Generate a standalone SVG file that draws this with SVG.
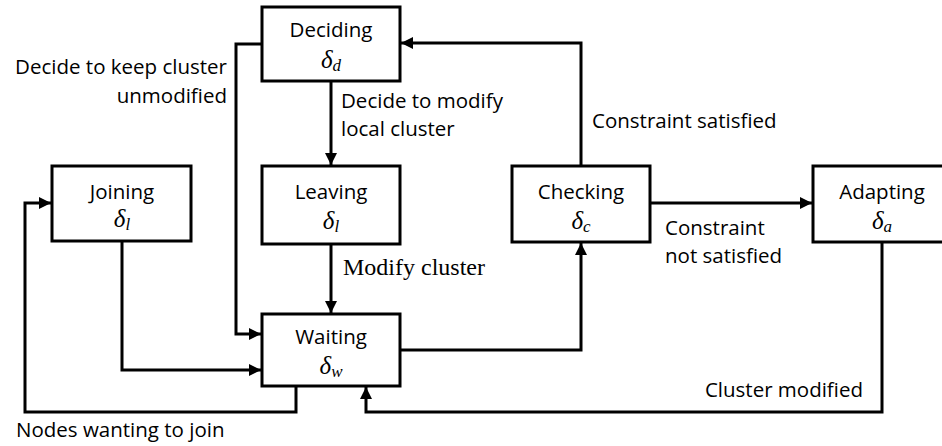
<svg xmlns="http://www.w3.org/2000/svg" width="942" height="446" viewBox="0 0 942 446">
  <style>
    .box { fill: #fff; stroke: #000; stroke-width: 3; }
    .wire { fill: none; stroke: #000; stroke-width: 3; }
    .lbl { font-family: "Open Sans", "Liberation Sans", Arial, sans-serif; font-size: 20.5px; fill: #000; }
    .mid { text-anchor: middle; }
    .end { text-anchor: end; }
    .math { font-family: "Liberation Serif", "Times New Roman", serif; font-style: italic; font-size: 25px; fill: #000; text-anchor: middle; }
    .sub { font-size: 17px; }
    .serif { font-family: "Liberation Serif", "Times New Roman", serif; font-size: 24px; fill: #000; }
  </style>
  <defs>
    <marker id="arrow" viewBox="0 0 10 10" refX="10" refY="5" markerWidth="4" markerHeight="4" orient="auto" markerUnits="strokeWidth">
      <path d="M0,0 L10,5 L0,10 z" fill="#000"/>
    </marker>
  </defs>

  <rect width="942" height="446" fill="#fff"/>

  <g id="connectors">
    <!-- Deciding -> Waiting (keep cluster unmodified) -->
    <path class="wire" d="M262,44 H236 V334 H261" marker-end="url(#arrow)"/>
    <!-- Deciding -> Leaving -->
    <path class="wire" d="M331,81 V165" marker-end="url(#arrow)"/>
    <!-- Leaving -> Waiting -->
    <path class="wire" d="M331,244 V313" marker-end="url(#arrow)"/>
    <!-- Joining -> Waiting -->
    <path class="wire" d="M122,241 V370 H261" marker-end="url(#arrow)"/>
    <!-- Waiting -> Joining (nodes wanting to join) -->
    <path class="wire" d="M296,386 V412 H25 V203 H51" marker-end="url(#arrow)"/>
    <!-- Waiting -> Checking -->
    <path class="wire" d="M400,350 H581 V243" marker-end="url(#arrow)"/>
    <!-- Checking -> Deciding (constraint satisfied) -->
    <path class="wire" d="M581,166 V43 H401" marker-end="url(#arrow)"/>
    <!-- Checking -> Adapting (constraint not satisfied) -->
    <path class="wire" d="M650,203 H812" marker-end="url(#arrow)"/>
    <!-- Adapting -> Waiting (cluster modified) -->
    <path class="wire" d="M882,242 V412 H366 V387" marker-end="url(#arrow)"/>
  </g>

  <g id="deciding">
    <rect class="box" x="262" y="7" width="138" height="74"/>
    <text class="lbl mid" x="331" y="37">Deciding</text>
    <text class="math" x="331" y="68">δ<tspan class="sub" dy="3">d</tspan></text>
  </g>

  <g id="leaving">
    <rect class="box" x="262" y="166" width="138" height="78"/>
    <text class="lbl mid" x="331" y="199">Leaving</text>
    <text class="math" x="331" y="229">δ<tspan class="sub" dy="3">l</tspan></text>
  </g>

  <g id="joining">
    <rect class="box" x="52" y="166" width="139" height="75"/>
    <text class="lbl mid" x="122" y="199">Joining</text>
    <text class="math" x="122" y="227">δ<tspan class="sub" dy="3">l</tspan></text>
  </g>

  <g id="waiting">
    <rect class="box" x="262" y="314" width="138" height="72"/>
    <text class="lbl mid" x="331" y="344">Waiting</text>
    <text class="math" x="331" y="374">δ<tspan class="sub" dy="3">w</tspan></text>
  </g>

  <g id="checking">
    <rect class="box" x="512" y="166" width="138" height="76"/>
    <text class="lbl mid" x="581" y="199">Checking</text>
    <text class="math" x="581" y="229">δ<tspan class="sub" dy="3">c</tspan></text>
  </g>

  <g id="adapting">
    <rect class="box" x="813" y="166" width="140" height="76"/>
    <text class="lbl mid" x="882" y="199">Adapting</text>
    <text class="math" x="882" y="229">δ<tspan class="sub" dy="3">a</tspan></text>
  </g>

  <g id="labels">
    <text class="lbl end" x="227" y="74">Decide to keep cluster</text>
    <text class="lbl end" x="227" y="103">unmodified</text>
    <text class="lbl" x="341" y="108">Decide to modify</text>
    <text class="lbl" x="341" y="136">local cluster</text>
    <text class="serif" x="343" y="275">Modify cluster</text>
    <text class="lbl" x="592" y="128">Constraint satisfied</text>
    <text class="lbl" x="665" y="235">Constraint</text>
    <text class="lbl" x="665" y="263">not satisfied</text>
    <text class="lbl end" x="863" y="397">Cluster modified</text>
    <text class="lbl" x="16" y="437">Nodes wanting to join</text>
  </g>
</svg>
